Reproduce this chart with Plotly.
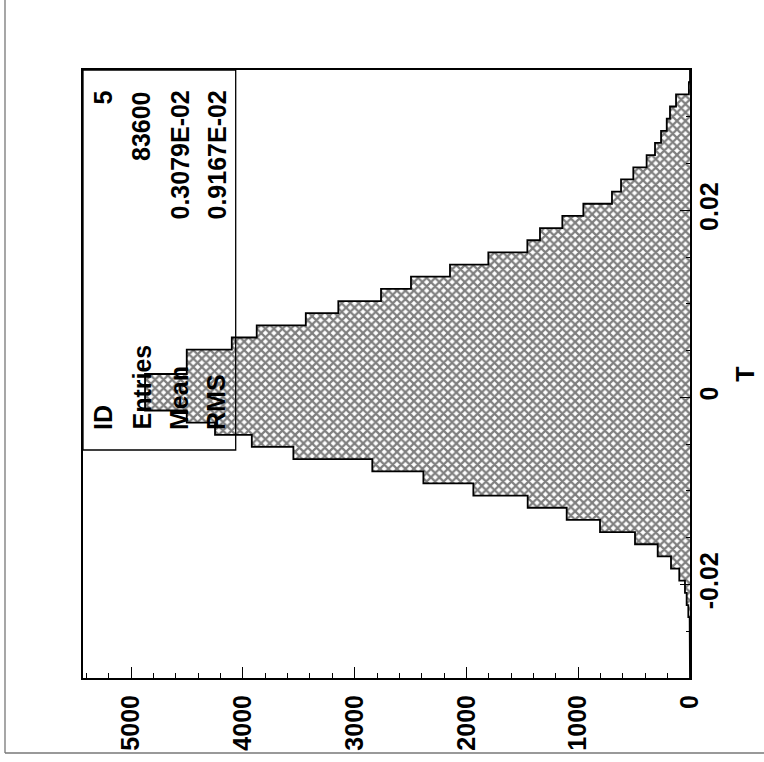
import numpy as np
import plotly.graph_objects as go

# ---- data (histogram ID 5, variable T) ----
t_min = -0.03
t_max = 0.035
n_bins = 50
counts = [0, 0, 0, 0, 3, 15, 30, 45, 96, 170,
          289, 492, 805, 1103, 1452, 1938, 2385, 2842, 3548, 3920,
          4249, 4502, 4875, 4875, 4875, 4502, 4502, 4099, 3876, 3437,
          3146, 2764, 2496, 2147, 1804, 1455, 1342, 1142, 954, 698,
          617, 507, 388, 313, 259, 208, 179, 125, 10, 0]
count_max = 5430
count_ticks = [0, 1000, 2000, 3000, 4000, 5000]
count_tick_labels = ["0", "1000", "2000", "3000", "4000", "5000"]
t_ticks = [-0.02, 0.0, 0.02]
t_tick_labels = ["-0.02", "0", "0.02"]
stat_names = ["ID", "Entries", "Mean", "RMS"]
stat_values = ["5", "83600", "0.3079E-02", "0.9167E-02"]

edges = np.linspace(t_min, t_max, n_bins + 1)
centers = 0.5 * (edges[:-1] + edges[1:])
width = edges[1] - edges[0]

# step outline built from the bin contents
xs = [0]
ys = [edges[0]]
for k, c in enumerate(counts):
    xs += [c, c]
    ys += [edges[k], edges[k + 1]]
xs.append(0)
ys.append(edges[-1])

FONT = "Liberation Sans, Arial, sans-serif"
font = dict(family=FONT, size=25, color="black", weight="bold")

fig = go.Figure()
fig.add_trace(go.Bar(
    y=centers, x=counts, orientation="h", width=width,
    marker=dict(color="white", line=dict(width=0),
                pattern=dict(shape="x", fgcolor="black", bgcolor="white",
                             size=6, solidity=0.6)),
    showlegend=False, hoverinfo="skip"))
fig.add_trace(go.Scatter(
    x=xs, y=ys, mode="lines", line=dict(color="black", width=1.8),
    showlegend=False, hoverinfo="skip"))

W, H = 764, 762
ml, mr, mt, mb = 83, 74, 70, 84
pw, ph = W - ml - mr, H - mt - mb


def px2paper(px, py):
    return (px - ml) / pw, (H - mb - py) / ph


shapes = []
# stats box
bx1, by0 = px2paper(235.7, 450)
shapes.append(dict(type="rect", xref="paper", yref="paper", x0=0, x1=bx1,
                   y0=by0, y1=1, line=dict(color="black", width=1.3)))
# page border (left and bottom)
lx, _ = px2paper(5, 0)
_, ty = px2paper(0, 0)
_, bly = px2paper(0, 753)
rx, _ = px2paper(W, 0)
shapes.append(dict(type="line", xref="paper", yref="paper", x0=lx, x1=lx,
                   y0=bly, y1=ty, line=dict(color="#777777", width=1.3)))
shapes.append(dict(type="line", xref="paper", yref="paper", x0=lx, x1=rx,
                   y0=bly, y1=bly, line=dict(color="#777777", width=1.3)))

annotations = []
row_px = [102.5, 141, 179, 216]
for name, val, rpx in zip(stat_names, stat_values, row_px):
    ax, ay0 = px2paper(rpx, 432)
    _, ay1 = px2paper(rpx, 89)
    annotations.append(dict(xref="paper", yref="paper", x=ax, y=ay0,
                            text=name, showarrow=False, textangle=-90,
                            xanchor="center", yanchor="bottom", font=font))
    annotations.append(dict(xref="paper", yref="paper", x=ax, y=ay1,
                            text=val, showarrow=False, textangle=-90,
                            xanchor="center", yanchor="top", font=font))

fig.update_layout(
    width=W, height=H, autosize=False,
    margin=dict(l=ml, r=mr, t=mt, b=mb, pad=0, autoexpand=False),
    paper_bgcolor="white", plot_bgcolor="white",
    bargap=0,
    shapes=shapes, annotations=annotations,
    xaxis=dict(range=[count_max, 0], showline=True, linecolor="black",
               linewidth=2, mirror=True, showgrid=False, zeroline=False,
               automargin=False,
               ticks="inside", ticklen=11, tickwidth=1, tickcolor="black",
               tickmode="array", tickvals=count_ticks,
               ticktext=count_tick_labels, tickangle=-90, tickfont=font,
               ticklabelstandoff=5,
               minor=dict(tickmode="linear", tick0=0, dtick=200,
                          ticks="inside", ticklen=5, tickwidth=1,
                          tickcolor="black", showgrid=False)),
    yaxis=dict(range=[t_min, t_max], side="right", showline=True,
               linecolor="black", linewidth=2, mirror=True, showgrid=False,
               zeroline=False, automargin=False,
               ticks="inside", ticklen=10, tickwidth=1,
               tickcolor="black", tickmode="array", tickvals=t_ticks,
               ticktext=t_tick_labels, tickangle=-90, tickfont=font,
               ticklabelstandoff=-4,
               minor=dict(tickmode="linear", tick0=0, dtick=0.005,
                          ticks="inside", ticklen=4, tickwidth=1,
                          tickcolor="black", showgrid=False),
               title=dict(text="T", font=font, standoff=14)),
)

fig.write_html("out.html")
